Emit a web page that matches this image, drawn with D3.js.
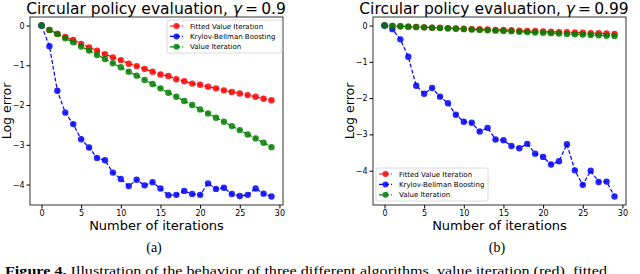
<!DOCTYPE html>
<html>
<head>
<meta charset="utf-8">
<script src="https://cdn.jsdelivr.net/npm/d3@7"></script>
<style>
  body { margin: 0; background: #fff; }
  svg { display: block; }
</style>
</head>
<body>
<div id="figure"></div>
<script>
// Circular policy evaluation figure (two panels)

const iterations = [0,1,2,3,4,5,6,7,8,9,10,11,12,13,14,15,16,17,18,19,20,21,22,23,24,25,26,27,28,29];
const xTicks = [0, 5, 10, 15, 20, 25, 30];
const yTicks = [0, -1, -2, -3, -4];
const seriesNames = ["Fitted Value Iteration", "Krylov-Bellman Boosting", "Value Iteration"];
const seriesColors = ["#ff0000", "#0000ff", "#008000"];

// panel (a), gamma = 0.9
const fviA = [0,-0.11,-0.21,-0.29,-0.36,-0.46,-0.55,-0.63,-0.72,-0.80,-0.87,-0.96,-1.02,-1.09,-1.16,-1.23,-1.27,-1.35,-1.40,-1.46,-1.49,-1.54,-1.58,-1.63,-1.67,-1.71,-1.75,-1.79,-1.84,-1.88];
const kbbA = [0,-0.52,-1.64,-2.19,-2.48,-2.86,-3.07,-3.33,-3.39,-3.70,-3.86,-4.04,-3.88,-4.02,-3.94,-4.10,-4.27,-4.26,-4.16,-4.24,-4.26,-3.97,-4.11,-4.08,-4.24,-4.29,-4.26,-4.10,-4.23,-4.30];
const viA = [0,-0.11,-0.21,-0.32,-0.42,-0.53,-0.63,-0.74,-0.84,-0.95,-1.05,-1.16,-1.26,-1.37,-1.47,-1.58,-1.69,-1.79,-1.90,-2.00,-2.11,-2.21,-2.32,-2.42,-2.53,-2.63,-2.74,-2.84,-2.95,-3.06];

// panel (b), gamma = 0.99
const fviB = [0,-0.01,-0.02,-0.03,-0.04,-0.05,-0.06,-0.06,-0.07,-0.08,-0.09,-0.10,-0.10,-0.11,-0.12,-0.12,-0.13,-0.14,-0.15,-0.15,-0.16,-0.17,-0.18,-0.18,-0.19,-0.20,-0.21,-0.21,-0.22,-0.23];
const kbbB = [0,-0.10,-0.38,-0.86,-1.66,-1.88,-1.72,-1.96,-2.14,-2.46,-2.65,-2.68,-2.92,-2.82,-3.14,-3.16,-3.32,-3.38,-3.26,-3.53,-3.62,-3.83,-3.74,-3.27,-3.99,-4.39,-4.00,-4.31,-4.30,-4.71];
const viB = [0,-0.01,-0.02,-0.03,-0.04,-0.05,-0.06,-0.07,-0.08,-0.09,-0.10,-0.11,-0.12,-0.13,-0.14,-0.15,-0.16,-0.17,-0.18,-0.19,-0.20,-0.21,-0.22,-0.23,-0.24,-0.25,-0.26,-0.27,-0.28,-0.29];

const W = 640, H = 274;
const sans = "DejaVu Sans, sans-serif";
const serif = "Liberation Serif, DejaVu Serif, serif";

const svg = d3.select("#figure").append("svg")
    .attr("width", W)
    .attr("height", H);

function drawPanel(cfg) {
    const x = d3.scaleLinear().domain([-1.45, 30.45]).range([cfg.left, cfg.right]);
    const y = d3.scaleLinear().domain(cfg.yDomain).range([205, 17]);
    const g = svg.append("g");

    // axes (matplotlib style, ticks outward)
    g.append("g")
        .attr("transform", `translate(0,205)`)
        .call(d3.axisBottom(x).tickValues(xTicks).tickSize(3.5).tickPadding(2).tickFormat(d3.format("d")))
        .call(a => a.select(".domain").remove())
        .call(a => a.selectAll("text").style("font-family", sans).style("font-size", "8px").attr("fill", "#000"));

    g.append("g")
        .attr("transform", `translate(${cfg.left},0)`)
        .call(d3.axisLeft(y).tickValues(yTicks).tickSize(3.5).tickPadding(2).tickFormat(d => d === 0 ? "0" : "\u2212" + Math.abs(d)))
        .call(a => a.select(".domain").remove())
        .call(a => a.selectAll("text").style("font-family", sans).style("font-size", "8px").attr("fill", "#000"));

    const series = [cfg.fvi, cfg.kbb, cfg.vi];
    const line = d3.line().x((d, i) => x(iterations[i])).y(d => y(d));

    series.forEach((vals, k) => {
        g.append("path")
            .datum(vals)
            .attr("d", line)
            .attr("fill", "none")
            .attr("stroke", seriesColors[k])
            .attr("stroke-width", 1.2)
            .attr("stroke-dasharray", "4,2");
        g.selectAll(null)
            .data(vals)
            .join("circle")
            .attr("cx", (d, i) => x(iterations[i]))
            .attr("cy", d => y(d))
            .attr("r", 3.2)
            .attr("fill", seriesColors[k])
            .attr("fill-opacity", 0.85);
    });

    // frame
    g.append("rect")
        .attr("x", cfg.left)
        .attr("y", 17)
        .attr("width", cfg.right - cfg.left)
        .attr("height", 188)
        .attr("fill", "none")
        .attr("stroke", "#000")
        .attr("stroke-width", 0.8);

    // legend
    const lg = g.append("g").attr("transform", `translate(${cfg.legend[0]},${cfg.legend[1]})`);
    lg.append("rect")
        .attr("width", cfg.legendW)
        .attr("height", 33)
        .attr("rx", 2)
        .attr("fill", "#fff")
        .attr("fill-opacity", 0.8)
        .attr("stroke", "#d0d0d0")
        .attr("stroke-width", 0.8);
    seriesNames.forEach((name, k) => {
        const ry = 6 + k * 10.4;
        lg.append("line")
            .attr("x1", 3).attr("x2", 16)
            .attr("y1", ry).attr("y2", ry)
            .attr("stroke", seriesColors[k])
            .attr("stroke-width", 1.2)
            .attr("stroke-dasharray", "4,2");
        lg.append("circle")
            .attr("cx", 9.5).attr("cy", ry).attr("r", 3)
            .attr("fill", seriesColors[k]).attr("fill-opacity", 0.85);
        lg.append("text")
            .attr("x", 23).attr("y", ry + 2.5)
            .style("font-family", sans)
            .style("font-size", "7px")
            .text(name);
    });

    // title
    const title = g.append("text")
        .attr("x", cfg.titleX)
        .attr("y", 13.5)
        .attr("text-anchor", "middle")
        .style("font-family", sans)
        .style("font-size", "15.5px");
    title.append("tspan").text("Circular policy evaluation, ");
    title.append("tspan").style("font-style", "italic").text("\u03b3");
    title.append("tspan").text("\u2009=\u2009" + cfg.gamma);

    // axis labels
    g.append("text")
        .attr("transform", `translate(${cfg.left - 19},111) rotate(-90)`)
        .attr("text-anchor", "middle")
        .style("font-family", sans)
        .style("font-size", "12.5px")
        .text("Log error");

    g.append("text")
        .attr("x", (cfg.left + cfg.right) / 2)
        .attr("y", 230)
        .attr("text-anchor", "middle")
        .style("font-family", sans)
        .style("font-size", "13px")
        .text("Number of iterations");

    g.append("text")
        .attr("x", cfg.subX)
        .attr("y", 252)
        .attr("text-anchor", "middle")
        .style("font-family", serif)
        .style("font-size", "14px")
        .text(cfg.sub);
}

drawPanel({
    left: 30, right: 283, yDomain: [-4.515, 0.215],
    fvi: fviA, kbb: kbbA, vi: viA,
    legend: [167, 20], legendW: 115,
    titleX: 156, gamma: "0.9", subX: 154, sub: "(a)"
});

drawPanel({
    left: 373, right: 626, yDomain: [-4.9455, 0.2355],
    fvi: fviB, kbb: kbbB, vi: viB,
    legend: [376, 168], legendW: 112,
    titleX: 494, gamma: "0.99", subX: 497, sub: "(b)"
});

// caption, cut off at the bottom edge like the source
const cap = svg.append("text")
    .attr("x", 5)
    .attr("y", 275)
    .attr("textLength", 602)
    .attr("lengthAdjust", "spacingAndGlyphs")
    .style("font-family", serif)
    .style("font-size", "13.5px");
cap.append("tspan").style("font-weight", "bold").text("Figure 4.");
cap.append("tspan").text(" Illustration of the behavior of three different algorithms, value iteration (red), fitted");
</script>
</body>
</html>
